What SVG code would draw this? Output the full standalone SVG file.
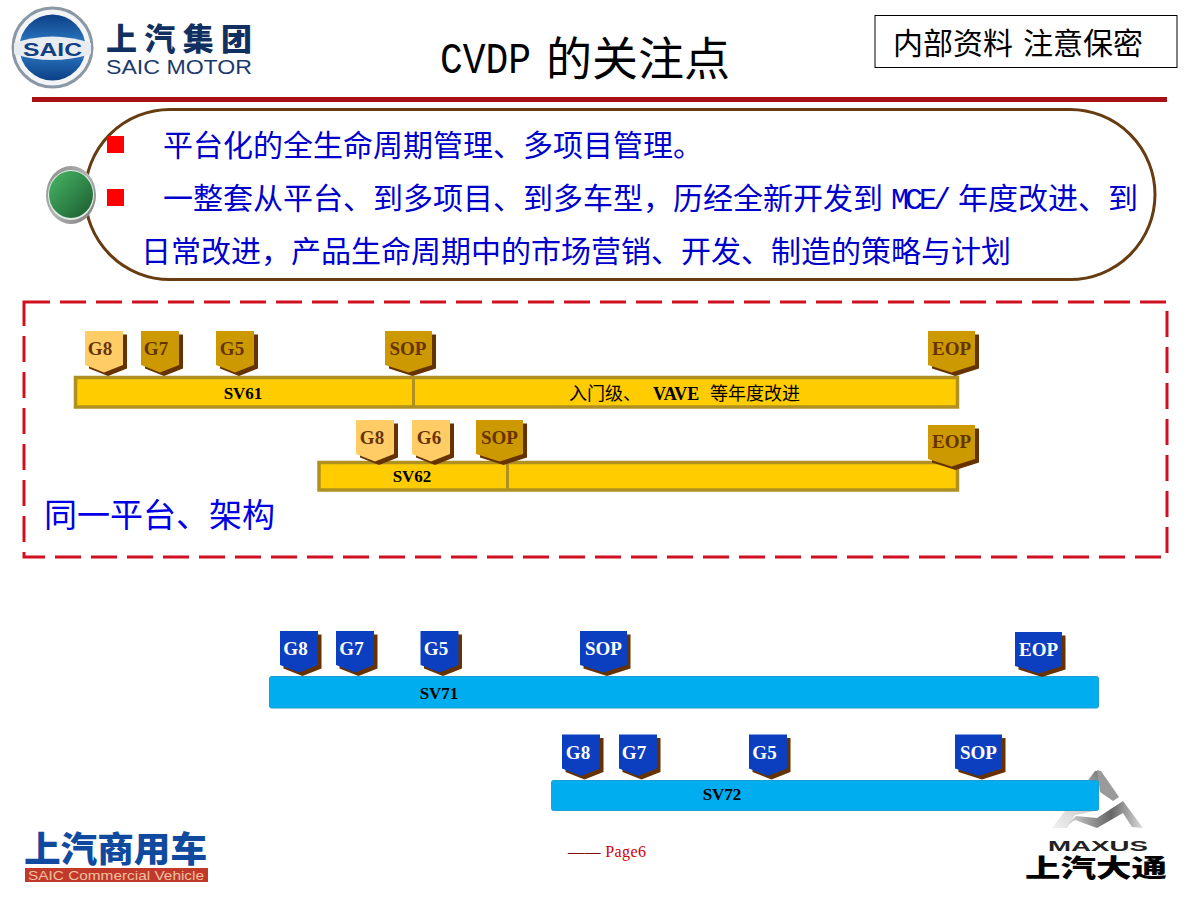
<svg xmlns="http://www.w3.org/2000/svg" width="1200" height="900" viewBox="0 0 1200 900">
<style>
.cn{font-family:"Noto Sans CJK SC","Noto Sans",sans-serif}
.body{font-size:30px;fill:#0000cc}
.lat{font-family:"Liberation Mono",monospace}
.ms{font-family:"Liberation Serif",serif;font-weight:bold;font-size:19px;text-anchor:middle}
.ms.d{fill:#663300}.ms.w{fill:#fff}
.bl{font-family:"Liberation Serif",serif;font-weight:bold;font-size:17px;fill:#000;text-anchor:middle}
.gb{fill:#ffcc00;stroke:#b09020;stroke-width:3.500}
.bb{fill:#00aeef;stroke:#1a9fd0;stroke-width:1}
.shd{fill:#663300}.l{fill:#ffcc66}.g{fill:#cc9900}.b{fill:#0b3fbf}
</style>
<defs>
<path id="s39" d="M0 0H38V34L19 41.500L0 34Z"/>
<path id="s47" d="M0 0H47V34L23.500 41.500L0 34Z"/>
<linearGradient id="gr" x1="0" y1="0" x2="1" y2="1"><stop offset="0" stop-color="#8a8a8a"/><stop offset=".5" stop-color="#b5b5b5"/><stop offset="1" stop-color="#777"/></linearGradient>
<linearGradient id="gn" x1="0" y1="0" x2="1" y2="1"><stop offset="0" stop-color="#48b866"/><stop offset="1" stop-color="#1a5a30"/></linearGradient>
<linearGradient id="blue" x1="0" y1="0" x2="0" y2="1"><stop offset="0" stop-color="#0c3f86"/><stop offset=".5" stop-color="#2f7fc8"/><stop offset="1" stop-color="#0c3f86"/></linearGradient>
<linearGradient id="mx" x1="0" y1="1" x2="1" y2="0"><stop offset="0" stop-color="#f2f2f2"/><stop offset=".6" stop-color="#c8c8c8"/><stop offset="1" stop-color="#777"/></linearGradient>
<linearGradient id="mx2" x1="0" y1="0" x2="1" y2="0"><stop offset="0" stop-color="#ddd"/><stop offset=".6" stop-color="#666"/><stop offset="1" stop-color="#ddd"/></linearGradient>
</defs>
<rect width="1200" height="900" fill="#fff"/>

<g id="logo-saic">
<circle cx="52.500" cy="47.500" r="39.500" fill="#f2f4f6" stroke="#8a97a5" stroke-width="3"/>
<circle cx="52.500" cy="47.500" r="33" fill="url(#blue)"/>
<path d="M14 43Q52 30 91 43V54Q52 66 14 54Z" fill="#e8ecf0"/>
<text x="52.500" y="56" font-family="Liberation Sans,sans-serif" font-weight="bold" font-size="18" fill="#123f80" text-anchor="middle" textLength="59" lengthAdjust="spacingAndGlyphs">SAIC</text>
<text class="cn" x="106" y="50" font-size="31" font-weight="900" fill="#12305f" textLength="146">上汽集团</text>
<text x="106" y="74" font-family="Liberation Sans,sans-serif" font-size="20" fill="#1b3a6b" textLength="146" lengthAdjust="spacingAndGlyphs">SAIC MOTOR</text>
</g>

<g id="title">
<text x="440" y="73" class="lat" font-size="45" fill="#000" textLength="91" lengthAdjust="spacingAndGlyphs">CVDP</text>
<text x="546" y="75" class="cn" font-size="46" fill="#000">的关注点</text>
</g>

<g id="secret">
<rect x="875" y="15.500" width="302" height="52" fill="#fff" stroke="#000" stroke-width="1"/>
<text x="893" y="54" class="cn" font-size="30" fill="#000">内部资料</text>
<text x="1023" y="54" class="cn" font-size="30" fill="#000">注意保密</text>
</g>

<rect id="rule" x="32" y="97" width="1135" height="5" fill="#a80f14"/>

<g id="callout">
<rect x="85" y="109.500" width="1070" height="170" rx="85" ry="85" fill="#fff" stroke="#663c10" stroke-width="3"/>
<ellipse cx="71" cy="195" rx="25" ry="29" fill="url(#gr)"/>
<ellipse cx="71" cy="195" rx="23" ry="25" fill="#dfeee2"/>
<ellipse cx="71" cy="194.500" rx="22" ry="23.500" fill="url(#gn)"/>
<rect x="107" y="136" width="17" height="17" fill="#f00"/>
<rect x="107" y="189" width="17" height="17" fill="#f00"/>
<text x="163" y="156" class="cn body">平台化的全生命周期管理、多项目管理。</text>
<text x="163" y="209" class="cn body">一整套从平台、到多项目、到多车型，历经全新开发到</text>
<text x="891" y="209" class="lat" font-size="30" fill="#0000cc" textLength="60">MCE/</text>
<text x="958" y="209" class="cn body">年度改进、到</text>
<text x="141" y="262" class="cn body" textLength="870">日常改进，产品生命周期中的市场营销、开发、制造的策略与计划</text>
</g>

<g id="platform-frame">
<rect x="24" y="302" width="1143" height="255" fill="none" stroke="#d01020" stroke-width="3" stroke-dasharray="26 10"/>
<text x="44" y="527" class="cn" font-size="33" fill="#0000e6">同一平台、架构</text>
</g>

<g id="logo-maxus">
<path d="M1052 828L1095 771H1099V810L1075 815L1067 828Z" fill="url(#mx)"/>
<path d="M1097 770L1101 771L1119 797L1113 801L1100 792Z" fill="#9a9a9a"/>
<path d="M1067 825L1076 816L1097 818L1123 801L1143 828L1132 827L1123 813L1097 828L1075 820L1063 828Z" fill="url(#mx2)"/>
<text x="1048" y="851" font-family="Liberation Sans,sans-serif" font-weight="bold" font-size="14" fill="#222" textLength="100" lengthAdjust="spacingAndGlyphs">MAXUS</text>
<text x="1025" y="877" class="cn" font-size="25" font-weight="900" fill="#000" textLength="142" lengthAdjust="spacingAndGlyphs">上汽大通</text>
</g>

<g id="bar-sv61">
<rect class="gb" x="75.500" y="377.500" width="882" height="29.500"/>
<line x1="413.500" y1="377" x2="413.500" y2="408" stroke="#b09020" stroke-width="3"/>
<text class="bl" x="243" y="398.500">SV61</text>
<text x="569" y="400" font-size="18" fill="#000" class="cn">入门级、</text>
<text x="653" y="400" font-size="18" font-family="Liberation Serif,serif" font-weight="bold" fill="#000">VAVE</text>
<text x="710" y="400" font-size="18" fill="#000" class="cn">等年度改进</text>
</g>
<g id="bar-sv62">
<rect class="gb" x="319" y="462.500" width="638.500" height="27.500"/>
<line x1="507.500" y1="462" x2="507.500" y2="491" stroke="#b09020" stroke-width="3"/>
<text class="bl" x="412" y="482">SV62</text>
</g>
<g id="bar-sv71">
<rect class="bb" x="269.500" y="676.500" width="829" height="31.500" rx="2"/>
<text class="bl" x="439" y="699">SV71</text>
</g>
<g id="bar-sv72">
<rect class="bb" x="551.500" y="780.500" width="547" height="30" rx="2"/>
<text class="bl" x="722" y="800">SV72</text>
</g>

<g id="sv61-g8" transform="translate(85,331)"><use href="#s39" class="shd" x="4" y="3.500"/><use href="#s39" class="l"/><text class="ms d" x="15" y="24">G8</text></g>
<g id="sv61-g7" transform="translate(141,331)"><use href="#s39" class="shd" x="4" y="3.500"/><use href="#s39" class="g"/><text class="ms d" x="15" y="24">G7</text></g>
<g id="sv61-g5" transform="translate(216,331)"><use href="#s39" class="shd" x="4" y="3.500"/><use href="#s39" class="g"/><text class="ms d" x="16" y="24">G5</text></g>
<g id="sv61-sop" transform="translate(385,331)"><use href="#s47" class="shd" x="4" y="3.500"/><use href="#s47" class="g"/><text class="ms d" x="23" y="24">SOP</text></g>
<g id="sv61-eop" transform="translate(928,331)"><use href="#s47" class="shd" x="4" y="3.500"/><use href="#s47" class="g"/><text class="ms d" x="23.500" y="24">EOP</text></g>

<g id="sv62-g8" transform="translate(356,420)"><use href="#s39" class="shd" x="4" y="3.500"/><use href="#s39" class="l"/><text class="ms d" x="16" y="24">G8</text></g>
<g id="sv62-g6" transform="translate(412,420)"><use href="#s39" class="shd" x="4" y="3.500"/><use href="#s39" class="l"/><text class="ms d" x="17" y="24">G6</text></g>
<g id="sv62-sop" transform="translate(476,420)"><use href="#s47" class="shd" x="4" y="3.500"/><use href="#s47" class="g"/><text class="ms d" x="23.500" y="24">SOP</text></g>
<g id="sv62-eop" transform="translate(928,425)"><use href="#s47" class="shd" x="4" y="3.500"/><use href="#s47" class="g"/><text class="ms d" x="23.500" y="23">EOP</text></g>

<g id="sv71-g8" transform="translate(280,631)"><use href="#s39" class="shd" x="3.500" y="3.500"/><use href="#s39" class="b"/><text class="ms w" x="15.500" y="24">G8</text></g>
<g id="sv71-g7" transform="translate(336,631)"><use href="#s39" class="shd" x="3.500" y="3.500"/><use href="#s39" class="b"/><text class="ms w" x="15.500" y="24">G7</text></g>
<g id="sv71-g5" transform="translate(420.500,631)"><use href="#s39" class="shd" x="3.500" y="3.500"/><use href="#s39" class="b"/><text class="ms w" x="15.500" y="24">G5</text></g>
<g id="sv71-sop" transform="translate(580,631)"><use href="#s47" class="shd" x="3.500" y="3.500"/><use href="#s47" class="b"/><text class="ms w" x="23.500" y="24">SOP</text></g>
<g id="sv71-eop" transform="translate(1015,632)"><use href="#s47" class="shd" x="3.500" y="3.500"/><use href="#s47" class="b"/><text class="ms w" x="23.500" y="24">EOP</text></g>

<g id="sv72-g8" transform="translate(562,734.500)"><use href="#s39" class="shd" x="3.500" y="3.500"/><use href="#s39" class="b"/><text class="ms w" x="16" y="24">G8</text></g>
<g id="sv72-g7" transform="translate(619,734.500)"><use href="#s39" class="shd" x="3.500" y="3.500"/><use href="#s39" class="b"/><text class="ms w" x="15" y="24">G7</text></g>
<g id="sv72-g5" transform="translate(749,734.500)"><use href="#s39" class="shd" x="3.500" y="3.500"/><use href="#s39" class="b"/><text class="ms w" x="15.500" y="24">G5</text></g>
<g id="sv72-sop" transform="translate(955,734.500)"><use href="#s47" class="shd" x="3.500" y="3.500"/><use href="#s47" class="b"/><text class="ms w" x="23.500" y="24">SOP</text></g>

<g id="logo-commercial">
<text x="24" y="862" class="cn" font-size="35" font-weight="900" fill="#0f4a9e" textLength="183" lengthAdjust="spacingAndGlyphs">上汽商用车</text>
<rect x="25" y="868" width="183" height="14" fill="#c0392b"/>
<text x="28" y="880" font-family="Liberation Sans,sans-serif" font-size="13" fill="#f0c0a0" textLength="176" lengthAdjust="spacingAndGlyphs">SAIC Commercial Vehicle</text>
</g>

<text id="page" x="568" y="857" font-family="Liberation Serif,serif" font-size="16" fill="#d00000" textLength="78"><tspan fill="#801010">——</tspan> Page6</text>
</svg>
